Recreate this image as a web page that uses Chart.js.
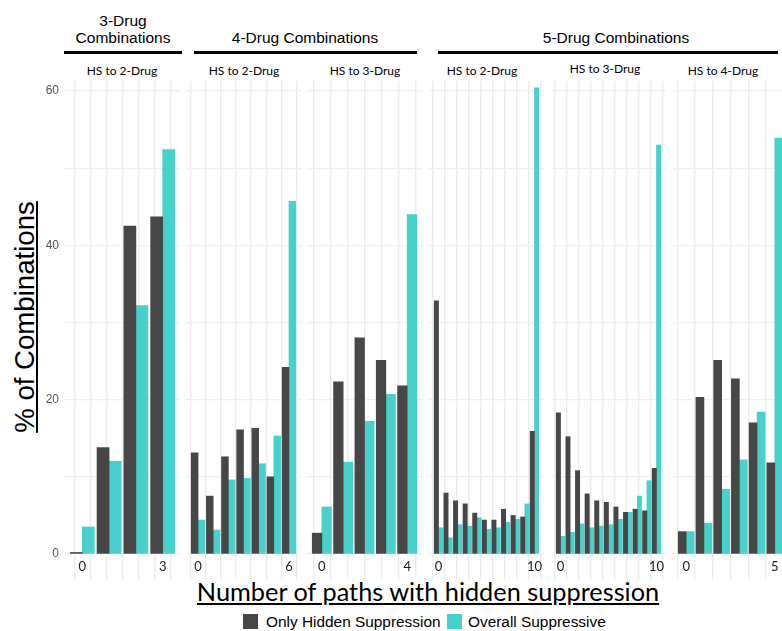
<!DOCTYPE html>
<html><head><meta charset="utf-8">
<script src="https://cdn.jsdelivr.net/npm/chart.js@4.4.1/dist/chart.umd.min.js"></script>
<style>
html,body{margin:0;padding:0;background:#fff;overflow:hidden;width:782px;height:631px;}
#wrap{position:relative;width:782px;height:631px;overflow:hidden;}
.abs{position:absolute;white-space:nowrap;}
.hdr{font-family:"Liberation Sans",Arial,sans-serif;font-size:15.5px;color:#000;transform:translate(-50%,-50%);text-align:center;line-height:17px;}
.rule{position:absolute;height:3px;background:#000;}
.strip{font-family:Lato,sans-serif;font-size:12px;color:#000;transform:translate(-50%,-50%);}
canvas{position:absolute;}
.sw{position:absolute;width:15px;height:15px;}
.lg{position:absolute;font-family:"Liberation Sans",Arial,sans-serif;font-size:15.4px;color:#000;transform:translateY(-50%);white-space:nowrap;}
</style></head><body><div id="wrap">
<div class="abs hdr" style="left:123px;top:29px;">3-Drug<br>Combinations</div>
<div class="rule" style="left:64px;width:118px;top:51px;"></div>
<div class="abs hdr" style="left:305px;top:37px;">4-Drug Combinations</div>
<div class="rule" style="left:194px;width:223px;top:51px;"></div>
<div class="abs hdr" style="left:616px;top:37px;">5-Drug Combinations</div>
<div class="rule" style="left:438px;width:340px;top:51px;"></div>
<div id="strips"></div>
<div class="abs" style="left:25px;top:317px;transform:translate(-50%,-50%) rotate(-90deg);font-family:'Liberation Sans',Arial,sans-serif;font-size:27.6px;text-decoration:underline;color:#000;">% of Combinations</div>
<div class="abs" style="left:428px;top:591px;transform:translate(-50%,-50%);font-family:Lato,sans-serif;font-size:25.3px;text-decoration:underline;color:#000;">Number of paths with hidden suppression</div>
<div class="sw" style="left:243px;top:614px;background:#474747;"></div>
<div class="lg" style="left:266px;top:622px;">Only Hidden Suppression</div>
<div class="sw" style="left:447px;top:614px;background:#48D1CC;"></div>
<div class="lg" style="left:468px;top:622px;">Overall Suppressive</div>
</div>
<script>
// ---- data ----
const stripLabels = ["HS to 2-Drug", "HS to 2-Drug", "HS to 3-Drug", "HS to 2-Drug", "HS to 3-Drug", "HS to 4-Drug"];
const seriesNames = ["Only Hidden Suppression", "Overall Suppressive"];
const cats1 = [0, 1, 2, 3];
const cats2 = [0, 1, 2, 3, 4, 5, 6];
const cats3 = [0, 1, 2, 3, 4];
const cats4 = [0, 1, 2, 3, 4, 5, 6, 7, 8, 9, 10];
const cats5 = [0, 1, 2, 3, 4, 5, 6, 7, 8, 9, 10];
const cats6 = [0, 1, 2, 3, 4, 5];
const hidden1 = [0.2, 13.8, 42.5, 43.7];
const overall1 = [3.5, 12.0, 32.2, 52.4];
const hidden2 = [13.1, 7.5, 12.6, 16.1, 16.3, 10.0, 24.2];
const overall2 = [4.4, 3.1, 9.6, 9.8, 11.7, 15.3, 45.7];
const hidden3 = [2.7, 22.3, 28.0, 25.1, 21.8];
const overall3 = [6.1, 11.9, 17.2, 20.7, 44.0];
const hidden4 = [32.8, 7.9, 6.9, 6.5, 5.3, 4.4, 4.4, 5.8, 5.0, 4.8, 15.9];
const overall4 = [3.4, 2.1, 3.8, 3.6, 4.7, 3.2, 3.4, 4.1, 4.5, 6.5, 60.4];
const hidden5 = [18.3, 15.2, 10.8, 7.8, 6.9, 6.7, 6.1, 5.4, 5.8, 5.6, 11.1];
const overall5 = [2.3, 2.8, 3.9, 3.4, 3.6, 3.8, 4.5, 5.4, 7.5, 9.5, 53.0];
const hidden6 = [2.9, 20.3, 25.1, 22.7, 17.0, 11.8];
const overall6 = [2.9, 4.0, 8.4, 12.2, 18.4, 53.9];
const yTicks = [0, 10, 20, 30, 40, 50, 60];

// ---- layout / style ----
const COLORS = ["#474747", "#48D1CC"];
const panelLeft = [65, 186, 307, 429, 551, 673];
const stripX = [122, 244, 365, 482, 605, 723];
const stripY = [70, 70, 70, 70, 68, 70];
const gridStep = [0.6, 1.0, 0.8, 1.25, 1.25, 1.0];
const PW = 115, TOP = 81, PH = 498, YAX = 35;
const Y_MIN = -3.24, Y_MAX = 61.3;

const panels = [
  [cats1, hidden1, overall1], [cats2, hidden2, overall2], [cats3, hidden3, overall3],
  [cats4, hidden4, overall4], [cats5, hidden5, overall5], [cats6, hidden6, overall6]
];

const wrap = document.getElementById('wrap');
stripLabels.forEach((t, i) => {
  const d = document.createElement('div');
  d.className = 'abs strip';
  d.style.left = stripX[i] + 'px';
  d.style.top = stripY[i] + 'px';
  d.textContent = t;
  wrap.appendChild(d);
});

function zeroPad(s) { s.paddingTop = 0; s.paddingBottom = 0; s.paddingLeft = 0; s.paddingRight = 0; }

panels.forEach((p, idx) => {
  const [cats, hid, ovr] = p;
  const n = cats[cats.length - 1];
  const span = n + 0.9;
  const xmin = -0.45 - 0.05 * span, xmax = n + 0.45 + 0.05 * span;
  const barW = 0.45 * PW / (xmax - xmin);
  const step = gridStep[idx];
  const xt = [];
  for (let k = Math.ceil(xmin / step); k * step <= xmax + 1e-9; k++) xt.push(Math.round(k * step * 1e6) / 1e6);
  [0, n].forEach(v => { if (!xt.some(t => Math.abs(t - v) < 1e-6)) xt.push(v); });
  xt.sort((a, b) => a - b);
  const yw = idx === 0 ? YAX : 0;
  const cv = document.createElement('canvas');
  cv.width = PW + yw; cv.height = PH;
  cv.style.left = (panelLeft[idx] - yw) + 'px';
  cv.style.top = TOP + 'px';
  cv.style.width = cv.width + 'px'; cv.style.height = cv.height + 'px';
  wrap.appendChild(cv);
  new Chart(cv, {
    type: 'bar',
    data: {
      datasets: [
        { label: seriesNames[0], data: cats.map((c, i) => ({ x: c, y: hid[i] })), backgroundColor: COLORS[0], borderWidth: 0, barThickness: barW },
        { label: seriesNames[1], data: cats.map((c, i) => ({ x: c, y: ovr[i] })), backgroundColor: COLORS[1], borderWidth: 0, barThickness: barW }
      ]
    },
    options: {
      responsive: false, animation: false, devicePixelRatio: 1,
      layout: { padding: 0 },
      plugins: { legend: { display: false }, tooltip: { enabled: false } },
      scales: {
        x: {
          type: 'linear', min: xmin, max: xmax, offset: false,
          grid: { color: '#ececec', lineWidth: 1.4, drawTicks: false },
          border: { display: false },
          afterBuildTicks: s => { s.ticks = xt.map(v => ({ value: v })); },
          afterFit: s => { s.height = 0; zeroPad(s); },
          ticks: {
            autoSkip: false, maxRotation: 0, minRotation: 0, mirror: true, padding: 4,
            font: { family: 'Lato', size: 13 }, color: '#1a1a1a',
            callback: v => (Math.abs(v) < 1e-6 || Math.abs(v - n) < 1e-6) ? String(Math.round(v)) : ''
          }
        },
        y: {
          min: Y_MIN, max: Y_MAX,
          grid: { color: '#efefef', lineWidth: 1.2, drawTicks: false },
          border: { display: false },
          afterBuildTicks: s => { s.ticks = yTicks.map(v => ({ value: v })); },
          afterFit: s => { s.width = yw; zeroPad(s); },
          ticks: {
            display: idx === 0, autoSkip: false, padding: 6,
            font: { family: 'Liberation Sans', size: 12 }, color: '#555',
            callback: v => (v % 20 === 0 ? String(v) : '')
          }
        }
      }
    }
  });
});
</script>
</body></html>
